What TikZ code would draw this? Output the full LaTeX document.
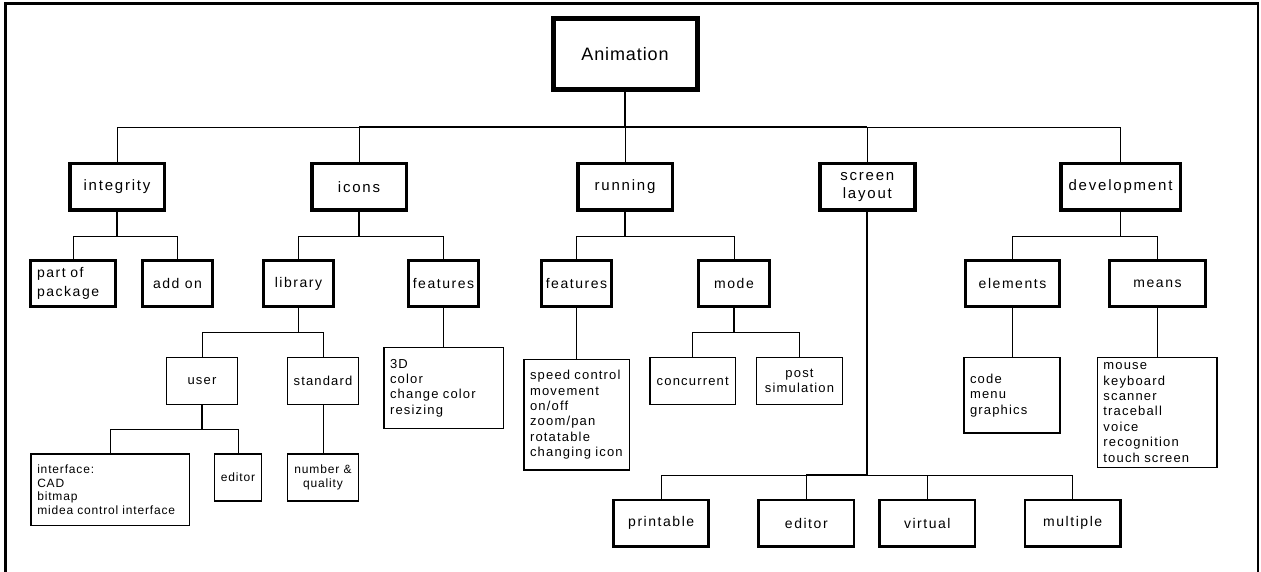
\documentclass[tikz,border=0pt]{standalone}
\usepackage{fontspec}
\setmainfont{Liberation Sans}
\newfontfamily\fA{Liberation Sans}[LetterSpace=5]
\newfontfamily\fB{Liberation Sans}[LetterSpace=12]
\newfontfamily\fC{Liberation Sans}[LetterSpace=11]
\newfontfamily\fD{Liberation Sans}[LetterSpace=9]
\newfontfamily\fE{Liberation Sans}[LetterSpace=7]
\tikzset{
  bx/.style={draw=black, fill=white, inner sep=0pt, align=center},
  lv0/.style={bx, line width=5pt, minimum width=144pt, minimum height=71pt, font=\fA\fontsize{18}{21}\selectfont},
  lv1/.style={bx, line width=3.5pt, minimum height=46.5pt, font=\fB\fontsize{15}{18.5}\selectfont},
  lv2/.style={bx, line width=2.6pt, minimum height=46.4pt, font=\fC\fontsize{14}{19}\selectfont},
  lv3/.style={bx, line width=1.5pt, minimum height=47.1pt, font=\fD\fontsize{13}{15.4}\selectfont},
  smallfont/.style={font=\fE\fontsize{12}{13.4}\selectfont},
  lst/.style={draw=black, fill=white, line width=1.5pt, align=left, inner xsep=6pt, inner ysep=0pt, font=\fD\fontsize{13}{15.4}\selectfont},
  cthin/.style={draw=black, line width=0.9pt},
  cmed/.style={draw=black, line width=1.4pt},
  cthick/.style={draw=black, line width=2.2pt},
  frame/.style={draw=black, line width=2.5pt}
}
\begin{document}
\begin{tikzpicture}[x=1pt, y=-1pt]
\useasboundingbox (0,0) rectangle (1261,572);
\draw[frame] (5.5,590) -- (5.5,3.7) -- (1258,3.7) -- (1258,590);

% bus levels
\coordinate (t) at (0,127);
\coordinate (m) at (0,236);
\coordinate (l) at (0,332);
\coordinate (u) at (0,429.3);
\coordinate (s) at (0,475);

% connectors
\draw[cthick] (625,54) -- (625,127);
\draw[cthin] (625,127) -- (625,187);
\path (625,54) coordinate (ac);

\node[lv0] (anim) at (625,54) {Animation};

\node[lv1, minimum width=94.5pt] (integ) at (117,187) {integrity};
\node[lv1, minimum width=94.5pt] (icons) at (359,187) {icons};
\node[lv1, minimum width=94.5pt] (run) at (625,187) {running};
\node[lv1, minimum width=95pt] (scr) at (867.3,187) {screen\\layout};
\node[lv1, minimum width=119.5pt] (dev) at (1120.5,187) {development};

\node[lv2, align=left, text width=72pt, inner xsep=6.7pt] (pkg) at (73,283.5) {part of\\package};
\node[lv2, minimum width=70.4pt] (addon) at (177.5,283.5) {add on};
\node[lv2, minimum width=70.4pt] (lib) at (298.5,283.5) {library};
\node[lv2, minimum width=70.4pt] (ifeat) at (443.5,283.5) {features};
\node[lv2, minimum width=70.4pt] (rfeat) at (576.5,283.5) {features};
\node[lv2, minimum width=71.4pt] (mode) at (734,283.5) {mode};
\node[lv2, minimum width=94.4pt] (elem) at (1012.5,283.5) {elements};
\node[lv2, minimum width=96.4pt] (means) at (1157.5,283.5) {means};

\node[lv3, minimum width=71pt] (user) at (202,381) {user};
\node[lv3, minimum width=71pt] (std) at (323,381) {standard};
\node[lv3, minimum width=85.8pt] (conc) at (692.7,381) {concurrent};
\node[lv3, minimum width=86pt] (post) at (799.5,381) {post\\simulation};
\node[lv3, smallfont, minimum width=47pt, minimum height=47pt] (ued) at (238,477.5) {editor};
\node[lv3, smallfont, minimum width=71pt, minimum height=47pt] (numq) at (323,477.5) {number \&\\quality};

\node[lst, text width=107.5pt, minimum height=81pt] (ilist) at (443.8,388) {3D\\color\\change color\\resizing};
\node[lst, text width=93.5pt, minimum height=110.2pt] (rlist) at (576.8,414.8) {speed control\\movement\\on/off\\zoom/pan\\rotatable\\changing icon};
\node[lst, text width=83.9pt, minimum height=75.8pt] (clist) at (1012,395.3) {code\\menu\\graphics};
\node[lst, text width=107.5pt, minimum height=110.1pt] (mlist) at (1157.2,412.5) {mouse\\keyboard\\scanner\\traceball\\voice\\recognition\\touch screen};
\node[lst, smallfont, inner xsep=6.5pt, text width=145.5pt, minimum height=71.2pt] (iflist) at (110,489.7) {interface:\\CAD\\bitmap\\midea control interface};

\node[lv2, minimum width=95.1pt] (print) at (661.2,523.3) {printable};
\node[lv2, minimum width=95.1pt] (sedit) at (806.3,523.3) {editor};
\node[lv2, minimum width=95.1pt] (virt) at (927.3,523.3) {virtual};
\node[lv2, minimum width=95.1pt] (mult) at (1072.7,523.3) {multiple};

% top level connectors
\begin{scope}[on background layer/.style={}]
\end{scope}
\draw[cthin] (integ.north) |- (icons.north |- t) -- (icons.north);
\draw[cthick] (icons.north |- t) -- (scr.north |- t);
\draw[cthin] (scr.north |- t) -- (scr.north);
\draw[cthin] (scr.north |- t) -| (dev.north);

% level 2
\draw[cmed] (integ.south) -- (integ.south |- m);
\draw[cthin] (pkg.north) |- (addon.north |- m) -- (addon.north);
\draw[cmed] (icons.south) -- (icons.south |- m);
\draw[cthin] (lib.north) |- (ifeat.north |- m) -- (ifeat.north);
\draw[cmed] (run.south) -- (run.south |- m);
\draw[cthin] (rfeat.north) |- (mode.north |- m) -- (mode.north);
\draw[cmed] (dev.south) -- (dev.south |- m);
\draw[cthin] (elem.north) |- (means.north |- m) -- (means.north);

% level 3
\draw[cmed] (lib.south) -- (lib.south |- l);
\draw[cthin] (user.north) |- (std.north |- l) -- (std.north);
\draw[cmed] (mode.south) -- (mode.south |- l);
\draw[cthin] (conc.north) |- (post.north |- l) -- (post.north);
\draw[cthin] (ifeat.south) -- (ifeat.south |- ilist.north);
\draw[cthin] (rfeat.south) -- (rfeat.south |- rlist.north);
\draw[cthin] (elem.south) -- (elem.south |- clist.north);
\draw[cthin] (means.south) -- (means.south |- mlist.north);
\draw[cthin] (std.south) -- (numq.north);
\draw[cmed] (user.south) -- (user.south |- u);
\draw[cthin] (iflist.north) |- (ued.north |- u) -- (ued.north);

% screen layout
\draw[cthick] (scr.south) -- (scr.south |- s);
\draw[cthin] (print.north) |- (sedit.north |- s) -- (sedit.north);
\draw[cthick] (sedit.north |- s) -- (scr.south |- s);
\draw[cthin] (scr.south |- s) -- (mult.north |- s) -- (mult.north);
\draw[cthin] (virt.north |- s) -- (virt.north);
\end{tikzpicture}
\end{document}
